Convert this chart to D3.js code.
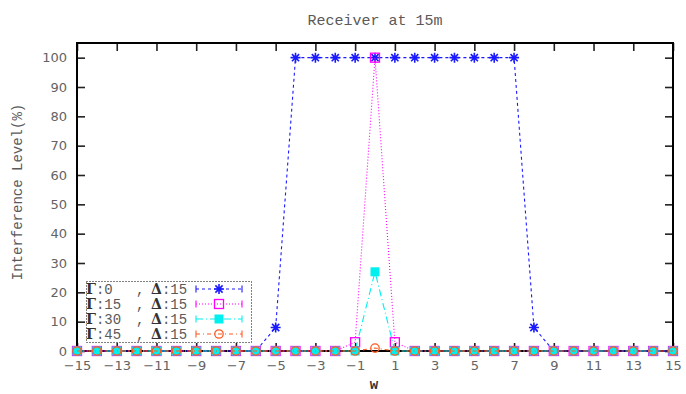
<!DOCTYPE html>
<html>
<head>
<meta charset="utf-8">
<script src="https://cdn.jsdelivr.net/npm/d3@7"></script>
<style>
  html, body { margin: 0; padding: 0; background: #fff; }
  svg { display: block; }
</style>
</head>
<body>
<svg id="chart" width="686" height="394"></svg>
<script>
// Receiver positions along w
const wValues = d3.range(-15, 16);

// Interference level (%) for each incidence angle Γ (Δ = 15)
const gamma0  = [0,0,0,0,0,0,0,0,0,0,8,100,100,100,100,100,100,100,100,100,100,100,100,8,0,0,0,0,0,0,0];
const gamma15 = [0,0,0,0,0,0,0,0,0,0,0,0,0,0,3,100,3,0,0,0,0,0,0,0,0,0,0,0,0,0,0];
const gamma30 = [0,0,0,0,0,0,0,0,0,0,0,0,0,0,0,27,0,0,0,0,0,0,0,0,0,0,0,0,0,0,0];
const gamma45 = [0,0,0,0,0,0,0,0,0,0,0,0,0,0,0,1,0,0,0,0,0,0,0,0,0,0,0,0,0,0,0];

const legendGamma = ["0", "15", "30", "45"];
const legendDelta = ["15", "15", "15", "15"];

const xTickValues = d3.range(-15, 16, 2);
const yTickValues = d3.range(0, 101, 10);

const svg = d3.select("#chart");
const W = 686, H = 394;
const margin = { top: 43, right: 13, bottom: 43, left: 77 };
const iw = W - margin.left - margin.right;
const ih = H - margin.top - margin.bottom;

const x = d3.scaleLinear().domain([-15, 15]).range([0, iw]);
const y = d3.scaleLinear().domain([0, 105]).range([ih, 0]);

const g = svg.append("g").attr("transform", `translate(${margin.left},${margin.top})`);

const labelFont = "DejaVu Sans, sans-serif";
const monoFont = "Liberation Mono, DejaVu Sans Mono, monospace";
const textColor = "#5a5a5a";

function styleAxis(sel, showLabels) {
  sel.select(".domain").remove();
  sel.selectAll(".tick line").attr("stroke", "#222").attr("stroke-width", 1.6);
  sel.selectAll(".tick text")
    .attr("font-family", labelFont)
    .attr("font-size", 13)
    .attr("fill", "#636363");
  if (!showLabels) sel.selectAll(".tick text").remove();
}

g.append("g").attr("transform", `translate(0,${ih})`)
  .call(d3.axisBottom(x).tickValues(xTickValues).tickSize(-8).tickPadding(10)
        .tickFormat(d => d < 0 ? "\u2212" + Math.abs(d) : d))
  .call(s => styleAxis(s, true));
g.append("g")
  .call(d3.axisTop(x).tickValues(xTickValues).tickSize(-8))
  .call(s => styleAxis(s, false));
g.append("g")
  .call(d3.axisLeft(y).tickValues(yTickValues).tickSize(-8).tickPadding(10))
  .call(s => styleAxis(s, true));
g.append("g").attr("transform", `translate(${iw},0)`)
  .call(d3.axisRight(y).tickValues(yTickValues).tickSize(-8))
  .call(s => styleAxis(s, false));

// Plot frame
g.append("rect").attr("x", 0).attr("y", 0).attr("width", iw).attr("height", ih)
  .attr("fill", "none").attr("stroke", "#000").attr("stroke-width", 2);

// Series definitions
const series = [
  { values: gamma0,  color: "#1a1aff", dash: "3,3",       marker: "star" },
  { values: gamma15, color: "#ff00ff", dash: "1,2",       marker: "openSquare" },
  { values: gamma30, color: "#00f0f0", dash: "7,3,1,3",   marker: "filledSquare" },
  { values: gamma45, color: "#ff5a1e", dash: "4,3,1,3",   marker: "openCircle" }
];

function drawMarker(sel, type, color) {
  if (type === "star") {
    const r = 5;
    const p = `M${-r},0L${r},0M0,${-r}L0,${r}M${-r*0.72},${-r*0.72}L${r*0.72},${r*0.72}M${-r*0.72},${r*0.72}L${r*0.72},${-r*0.72}`;
    sel.append("path").attr("d", p).attr("stroke", color).attr("stroke-width", 1.6).attr("fill", "none");
  } else if (type === "openSquare") {
    sel.append("rect").attr("x", -4.5).attr("y", -4.5).attr("width", 9).attr("height", 9)
      .attr("fill", "none").attr("stroke", color).attr("stroke-width", 1.3);
  } else if (type === "filledSquare") {
    sel.append("rect").attr("x", -4.5).attr("y", -4.5).attr("width", 9).attr("height", 9)
      .attr("fill", color).attr("stroke", "none");
  } else if (type === "openCircle") {
    sel.append("circle").attr("r", 4.2).attr("fill", "none").attr("stroke", color).attr("stroke-width", 1.3);
  }
}

const line = d3.line().x(d => x(d[0])).y(d => y(d[1]));

series.forEach(s => {
  const pts = wValues.map((w, i) => [w, s.values[i]]);
  g.append("path").datum(pts).attr("d", line)
    .attr("fill", "none").attr("stroke", s.color).attr("stroke-width", 1.1)
    .attr("stroke-dasharray", s.dash);
  g.append("g").selectAll("g").data(pts).join("g")
    .attr("transform", d => `translate(${x(d[0])},${y(d[1])})`)
    .each(function() { drawMarker(d3.select(this), s.marker, s.color); });
});

// Legend
const lg = svg.append("g");
lg.append("rect").attr("x", 86.5).attr("y", 281.5).attr("width", 165).attr("height", 61)
  .attr("fill", "none").attr("stroke", "#000").attr("stroke-width", 1).attr("stroke-dasharray", "1,2");

const rowY = [289, 304, 319, 334];
series.forEach((s, i) => {
  const yy = rowY[i];
  const t = lg.append("text").attr("y", yy).attr("dy", "0.36em")
    .attr("font-size", 14).attr("fill", textColor);
  t.append("tspan").attr("x", 86).attr("font-family", "DejaVu Serif, Liberation Serif, serif")
    .attr("font-weight", "bold").attr("fill", "#333").text("\u0393");
  t.append("tspan").attr("font-family", monoFont).text(":" + legendGamma[i]);
  t.append("tspan").attr("x", 136).attr("font-family", monoFont).text(",");
  t.append("tspan").attr("x", 151).attr("font-family", "DejaVu Serif, Liberation Serif, serif")
    .attr("font-weight", "bold").attr("fill", "#333").text("\u0394");
  t.append("tspan").attr("font-family", monoFont).text(":" + legendDelta[i]);

  lg.append("line").attr("x1", 196).attr("x2", 242).attr("y1", yy).attr("y2", yy)
    .attr("stroke", s.color).attr("stroke-width", 1.1).attr("stroke-dasharray", s.dash);
  [196, 242].forEach(cx => lg.append("line").attr("x1", cx).attr("x2", cx)
    .attr("y1", yy - 3.5).attr("y2", yy + 3.5).attr("stroke", s.color).attr("stroke-width", 1.1));
  drawMarker(lg.append("g").attr("transform", `translate(219,${yy})`), s.marker, s.color);
});

// Title and axis labels
svg.append("text").attr("x", 375).attr("y", 20).attr("dy", "0.36em")
  .attr("text-anchor", "middle").attr("font-family", monoFont).attr("font-size", 15)
  .attr("fill", textColor).text("Receiver at 15m");

svg.append("text").attr("transform", "translate(17,192) rotate(-90)")
  .attr("dy", "0.36em").attr("text-anchor", "middle")
  .attr("font-family", monoFont).attr("font-size", 14)
  .attr("fill", textColor).text("Interference Level(%)");

svg.append("text").attr("x", 374).attr("y", 384).attr("dy", "0.36em")
  .attr("text-anchor", "middle").attr("font-family", monoFont).attr("font-size", 14)
  .attr("font-weight", "bold").attr("fill", "#333").text("w");
</script>
</body>
</html>
